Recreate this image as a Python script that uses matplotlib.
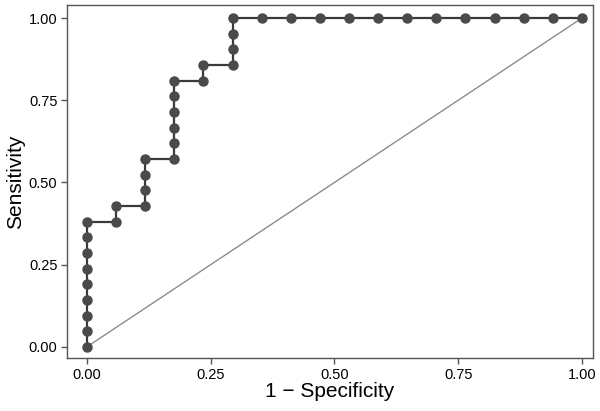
import matplotlib
matplotlib.use("Agg")
import matplotlib.pyplot as plt

plt.rcParams['font.family'] = ['Liberation Sans', 'DejaVu Sans']

# ROC points
fpr = [0.0, 0.0, 0.0, 0.0, 0.0, 0.0, 0.0, 0.0, 0.0,
       0.0588, 0.0588,
       0.1176, 0.1176, 0.1176, 0.1176,
       0.1765, 0.1765, 0.1765, 0.1765, 0.1765, 0.1765,
       0.2353, 0.2353,
       0.2941, 0.2941, 0.2941, 0.2941,
       0.3529, 0.4118, 0.4706, 0.5294, 0.5882, 0.6471,
       0.7059, 0.7647, 0.8235, 0.8824, 0.9412, 1.0]
tpr = [0.0, 0.0476, 0.0952, 0.1429, 0.1905, 0.2381, 0.2857, 0.3333, 0.3810,
       0.3810, 0.4286,
       0.4286, 0.4762, 0.5238, 0.5714,
       0.5714, 0.6190, 0.6667, 0.7143, 0.7619, 0.8095,
       0.8095, 0.8571,
       0.8571, 0.9048, 0.9524, 1.0,
       1.0, 1.0, 1.0, 1.0, 1.0, 1.0,
       1.0, 1.0, 1.0, 1.0, 1.0, 1.0]
ticks = [0.0, 0.25, 0.5, 0.75, 1.0]
tick_labels = ["0.00", "0.25", "0.50", "0.75", "1.00"]

fig = plt.figure(figsize=(6, 4.11), dpi=100)
ax = fig.add_axes([0.112, 0.129, 0.876, 0.859])

ax.plot([0, 1], [0, 1], color='#8c8c8c', lw=1.0, zorder=1)
ax.plot(fpr, tpr, color='#3a3a3a', lw=1.6, marker='o', ms=6.5,
        markerfacecolor='#4a4a4a', markeredgecolor='#4a4a4a', zorder=2)

ax.set_xlim(-0.04, 1.022)
ax.set_ylim(-0.034, 1.04)
ax.set_xticks(ticks)
ax.set_xticklabels(tick_labels)
ax.set_yticks(ticks)
ax.set_yticklabels(tick_labels)
ax.tick_params(direction='out', length=4, width=1, color='#555555',
               labelsize=10.5, labelcolor='black', pad=3)
for s in ax.spines.values():
    s.set_color('#555555')
    s.set_linewidth(1)

ax.set_xlabel("1 \u2212 Specificity", fontsize=15, labelpad=0)
ax.set_ylabel("Sensitivity", fontsize=15, labelpad=3)

fig.savefig("out.png", dpi=100)
